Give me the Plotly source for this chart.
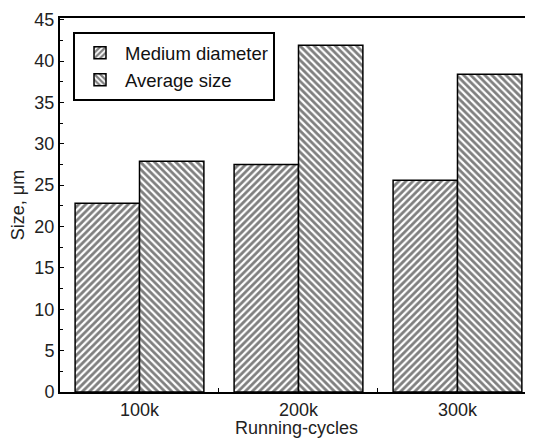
import plotly.graph_objects as go

categories = ["100k", "200k", "300k"]
medium_diameter = [22.8, 27.5, 25.6]
average_size = [27.9, 41.9, 38.4]

pat = dict(size=5, solidity=0.55, fgcolor="black", bgcolor="white")

fig = go.Figure()
fig.add_trace(go.Bar(
    x=categories, y=medium_diameter, name="Medium diameter",
    marker=dict(color="white", line=dict(color="black", width=1.5),
                pattern=dict(shape="/", **pat)),
))
fig.add_trace(go.Bar(
    x=categories, y=average_size, name="Average size",
    marker=dict(color="white", line=dict(color="black", width=1.5),
                pattern=dict(shape="\\", **pat)),
))

fam = "Arial, Liberation Sans, sans-serif"
tf = dict(family=fam, size=18, color="#222")
# page body has an 8px default margin, so the figure is 8px smaller than the window
fig.update_layout(
    width=525, height=430,
    margin=dict(l=52, r=0, t=10, b=46),
    paper_bgcolor="white", plot_bgcolor="white",
    font=tf,
    barmode="group", bargap=0.19, bargroupgap=0,
    showlegend=True,
    legend=dict(x=0.0275, y=0.962, xanchor="left", yanchor="top",
                bordercolor="black", borderwidth=2, bgcolor="white",
                font=dict(family=fam, size=18.5, color="#111"),
                tracegroupgap=0, itemwidth=40),
)
fig.update_xaxes(
    range=[-0.5, 2.475], showline=True, linecolor="black", linewidth=2,
    mirror=True, ticks="inside", tickson="boundaries", ticklen=4, tickcolor="black",
    tickfont=tf,
    title=dict(text="Running-cycles", standoff=2, font=tf),
    showgrid=False, zeroline=False, automargin=False,
)
fig.update_yaxes(
    range=[0, 45.2], dtick=5, showline=True, linecolor="black", linewidth=2,
    mirror=False, ticks="inside", ticklen=4, tickcolor="black",
    tickfont=tf,
    minor=dict(dtick=2.5, ticks="inside", ticklen=3, tickcolor="black"),
    title=dict(text="Size, μm", standoff=8, font=tf),
    showgrid=False, zeroline=False, automargin=False,
)
fig.write_html("out.html")
